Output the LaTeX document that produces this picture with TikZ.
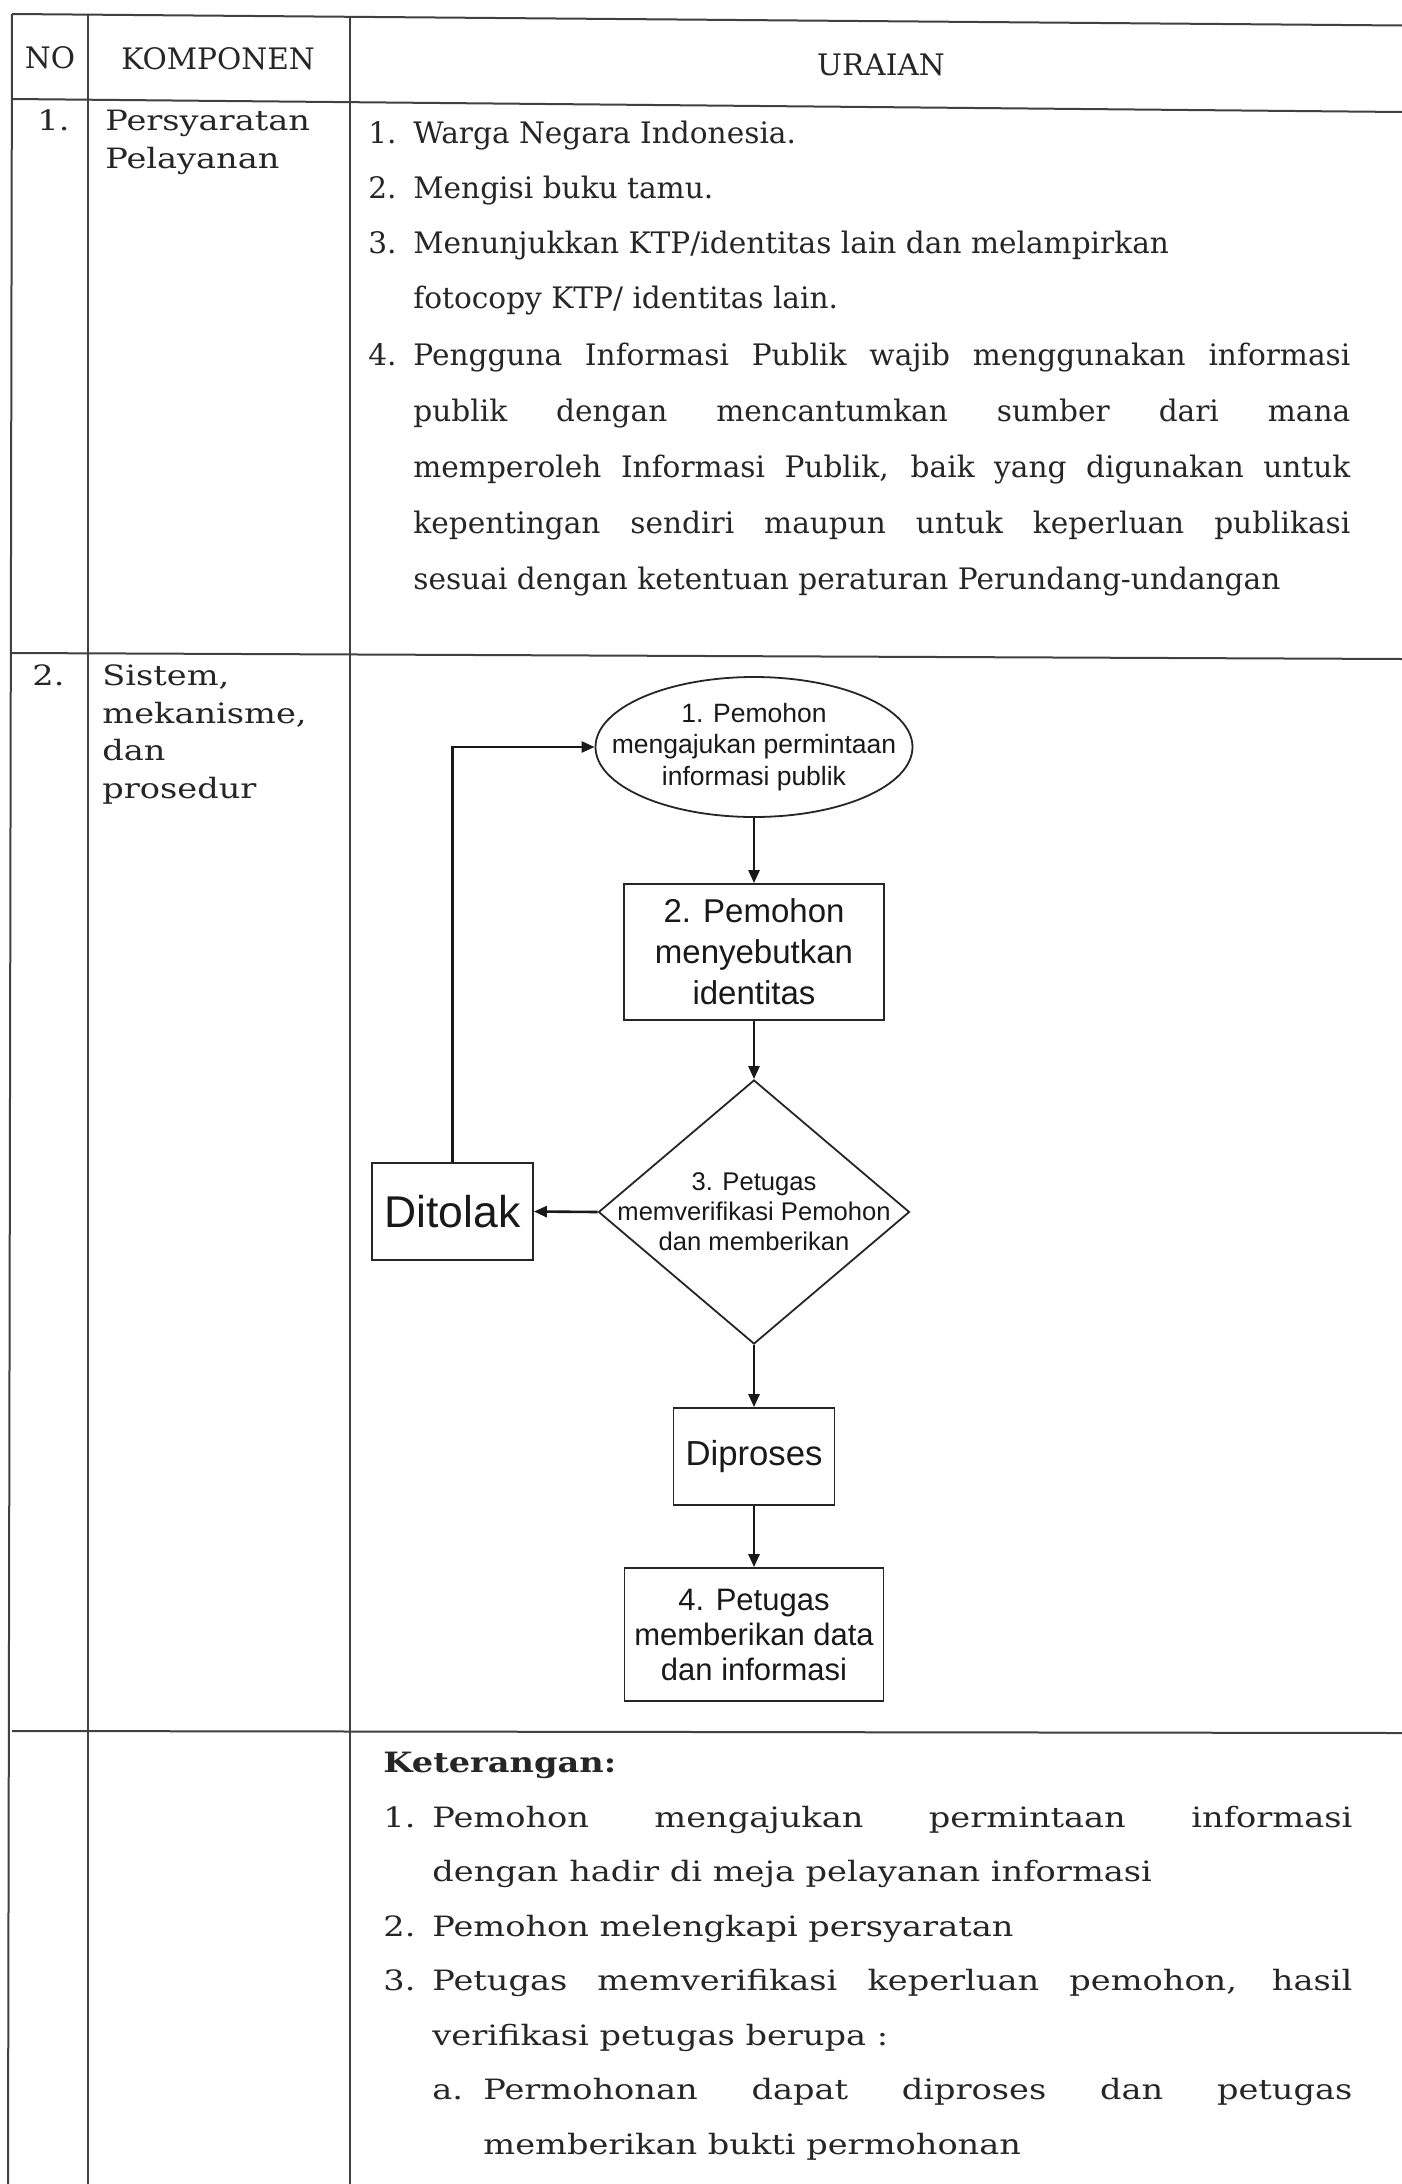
\documentclass[tikz,border=0pt]{standalone}
\usepackage{fontspec}
\setmainfont{DejaVu Serif}
\newfontfamily\bk[FakeStretch=1.2]{DejaVu Serif}
\newfontfamily\cam{DejaVu Serif}
\newfontfamily\ar{Liberation Sans}
\usetikzlibrary{shapes.geometric,arrows.meta}
\begin{document}
\begin{tikzpicture}[x=0.5pt,y=-0.5pt,
  tline/.style={line width=1pt,draw=black!75},
  fbox/.style={draw=black!85,line width=0.9pt,rectangle,inner sep=0pt,align=center,text=black!90},
  shapetext/.style={align=center,inner sep=0pt,text=black!90},
  flow/.style={draw=black!90,line width=1.3pt,-{Triangle[length=6.5pt,width=5.5pt]}},
  bktext/.style={anchor=base west,inner sep=0pt,text=black!85,font=\bk\fontsize{14}{17}\selectfont},
  camtext/.style={anchor=base west,inner sep=0pt,text=black!85,font=\cam\fontsize{14.8}{18}\selectfont},
]
\useasboundingbox[fill=white] (0,0) rectangle (1402,2184);

% table lines
\draw[tline] (12,14) -- (1402,25.5);
\draw[tline] (12,99) -- (1402,112);
\draw[tline] (12,653) -- (1402,659);
\draw[tline] (12,1731) -- (1402,1733);
\draw[tline] (12,14) -- (8,2184);
\draw[tline] (88,14.5) -- (88,2184);
\draw[tline] (350,16.5) -- (350,2184);

% header
\node[camtext,anchor=base] (hno) at (50,68) {NO};
\node[camtext,anchor=base] (hkomp) at (218,69) {KOMPONEN};
\node[camtext,anchor=base] (hur) at (881,75) {URAIAN};

% row 1
\node[bktext] (n1) at (37,130) {1.};
\node[bktext] (k1a) at (105,130) {Persyaratan};
\node[bktext] (k1b) at (105,168) {Pelayanan};

\node[camtext] (i1n) at (368,143) {1.};
\node[camtext] (i1) at (413,143) {Warga Negara Indonesia.};
\node[camtext] (i2n) at (368,198) {2.};
\node[camtext] (i2) at (413,198) {Mengisi buku tamu.};
\node[camtext] (i3n) at (368,253) {3.};
\node[camtext] (i3) at (413,253) {Menunjukkan KTP/identitas lain dan melampirkan};
\node[camtext] (i3b) at (413,308) {fotocopy KTP/ identitas lain.};
\node[camtext] (i4n) at (368,365) {4.};
\node[camtext] (i4) at (413,365) {\makebox[468.5pt][s]{Pengguna Informasi Publik wajib menggunakan informasi}};
\node[camtext] (i4b) at (413,421) {\makebox[468.5pt][s]{publik dengan mencantumkan sumber dari mana}};
\node[camtext] (i4c) at (413,477) {\makebox[468.5pt][s]{memperoleh Informasi Publik, baik yang digunakan untuk}};
\node[camtext] (i4d) at (413,533) {\makebox[468.5pt][s]{kepentingan sendiri maupun untuk keperluan publikasi}};
\node[camtext] (i4e) at (413,589) {sesuai dengan ketentuan peraturan Perundang-undangan};

% row 2
\node[bktext] (n2) at (32,685) {2.};
\node[bktext] (k2a) at (102,685) {Sistem,};
\node[bktext] (k2b) at (102,723) {mekanisme,};
\node[bktext] (k2c) at (102,760) {dan};
\node[bktext] (k2d) at (102,798) {prosedur};

% flowchart
\node[ellipse,draw=black!85,line width=0.9pt,minimum width=158.5pt,minimum height=70pt,inner sep=0pt] (ell) at (754,747) {};
\node[shapetext,font=\ar\fontsize{13.25}{15.75}\selectfont] (ellt) at (ell.center) {1. Pemohon\\mengajukan permintaan\\informasi publik};

\node[fbox,minimum width=130pt,minimum height=68pt,font=\ar\fontsize{16.5}{20.5}\selectfont] (r2) at (754,952) {2. Pemohon\\menyebutkan\\identitas};

\node[diamond,draw=black!85,line width=0.9pt,minimum width=155.5pt,minimum height=132pt,inner sep=0pt] (dia) at (754,1212) {};
\node[shapetext,font=\ar\fontsize{12.8}{15}\selectfont] (diat) at (dia.center) {3. Petugas\\memverifikasi Pemohon\\dan memberikan};

\node[fbox,minimum width=80.5pt,minimum height=48.5pt,font=\ar\fontsize{22.25}{26}\selectfont] (dit) at (452.5,1211.5) {Ditolak};

\node[fbox,minimum width=80.5pt,minimum height=48.5pt,font=\ar\fontsize{17.35}{20}\selectfont] (dip) at (754,1456.5) {Diproses};

\node[fbox,minimum width=129.5pt,minimum height=66.5pt,font=\ar\fontsize{15.5}{17.5}\selectfont] (r4) at (754,1634.5) {4. Petugas\\memberikan data\\dan informasi};

\draw[flow] (ell.south) -- (r2.north);
\draw[flow] (r2.south) -- (dia.north);
\draw[flow] (dia.west) -- (dit.east);
\draw[flow] (dia.south) -- (dip.north);
\draw[flow] (dip.south) -- (r4.north);
\draw[flow] (dit.north) |- (ell.west);

% row 3
\node[bktext,font=\bk\bfseries\fontsize{14}{17}\selectfont] (ket) at (383,1772.5) {Keterangan:};
\node[bktext] (e1n) at (383,1827) {1.};
\node[bktext] (e1) at (432,1827) {\makebox[460pt][s]{Pemohon mengajukan permintaan informasi}};
\node[bktext] (e1b) at (432,1881.5) {dengan hadir di meja pelayanan informasi};
\node[bktext] (e2n) at (383,1936) {2.};
\node[bktext] (e2) at (432,1936) {Pemohon melengkapi persyaratan};
\node[bktext] (e3n) at (383,1990.5) {3.};
\node[bktext] (e3) at (432,1990.5) {\makebox[460pt][s]{Petugas memverifikasi keperluan pemohon, hasil}};
\node[bktext] (e3b) at (432,2045) {verifikasi petugas berupa :};
\node[bktext] (ean) at (432,2099.5) {a.};
\node[bktext] (ea) at (483,2099.5) {\makebox[434.5pt][s]{Permohonan dapat diproses dan petugas}};
\node[bktext] (eab) at (483,2154) {memberikan bukti permohonan};
\end{tikzpicture}
\end{document}
